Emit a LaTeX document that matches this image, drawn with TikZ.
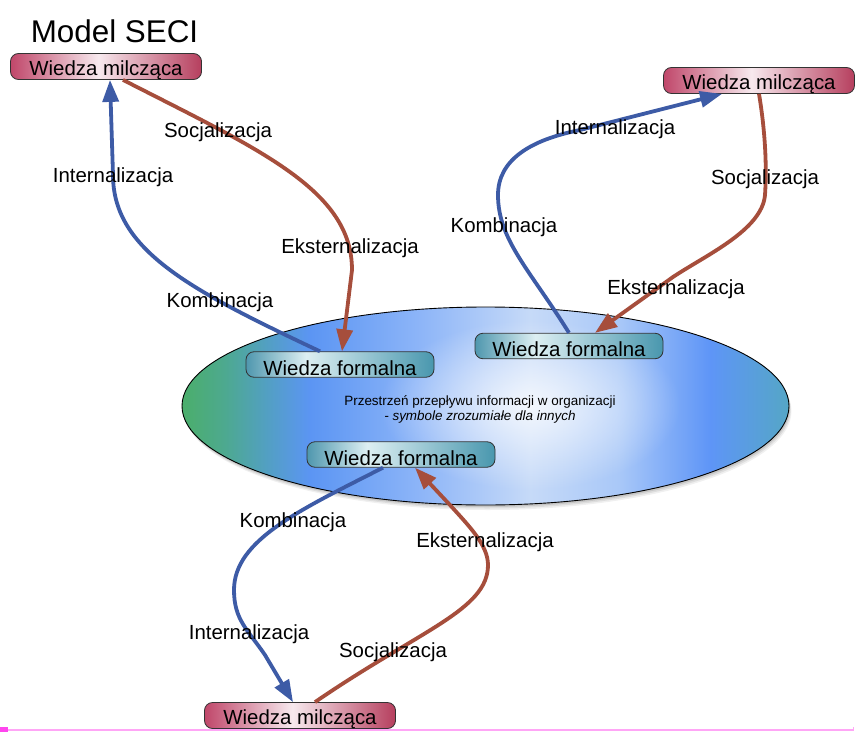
\documentclass[tikz,border=0pt]{standalone}
\usepackage{fontspec}
\setmainfont{Liberation Sans}
\usetikzlibrary{arrows.meta,fadings}

% palette
\definecolor{arrowblue}{HTML}{3D5BA6}
\definecolor{arrowbrown}{HTML}{A64E3C}
\definecolor{tacitL}{HTML}{C0476A}
\definecolor{tacitM}{HTML}{F7E9EE}
\definecolor{tacitR}{HTML}{B63F5E}
\definecolor{formL}{HTML}{4F97AE}
\definecolor{formM}{HTML}{DDEFF2}
\definecolor{formR}{HTML}{4997AE}
\definecolor{spG}{HTML}{4BAE6B}
\definecolor{spM}{HTML}{4DA98F}
\definecolor{spT}{HTML}{52A0C0}
\definecolor{spB}{HTML}{5B95F3}
\definecolor{spLB}{HTML}{8DB5F8}
\definecolor{spL}{HTML}{C6DAF8}
\definecolor{spLB2}{HTML}{A9C8F8}
\definecolor{spB2}{HTML}{5E95F7}
\definecolor{spT2}{HTML}{58A0D8}
\definecolor{spE}{HTML}{55A6C6}
\definecolor{pinkrule}{HTML}{FFA6F6}
\definecolor{pinkmark}{HTML}{FF45EE}

% box and space shadings (central 50bp span covers the filled path)
\pgfdeclarehorizontalshading{tacitshade}{100bp}{color(0bp)=(tacitL); color(25bp)=(tacitL); color(48bp)=(tacitM); color(75bp)=(tacitR); color(100bp)=(tacitR)}
\pgfdeclarehorizontalshading{formalshade}{100bp}{color(0bp)=(formL); color(25bp)=(formL); color(41bp)=(formM); color(75bp)=(formR); color(100bp)=(formR)}
\pgfdeclarehorizontalshading{spaceshade}{100bp}{color(0bp)=(spG); color(25bp)=(spG); color(28.5bp)=(spM); color(31.8bp)=(spT); color(35.5bp)=(spB); color(44.6bp)=(spLB); color(53.7bp)=(spL); color(61bp)=(spLB2); color(68.5bp)=(spB2); color(72.6bp)=(spT2); color(75bp)=(spE); color(100bp)=(spE)}
\tikzfading[name=centreglow, inner color=transparent!0, outer color=transparent!100]

\newcommand{\boxfont}{\fontsize{20.5}{24}\selectfont}
\newcommand{\labfont}{\fontsize{20.5}{24}\selectfont}

\tikzset{
  tacit/.style={rectangle, rounded corners=8bp, draw=black!80, line width=0.8bp,
    shade, shading=tacitshade, minimum width=191bp, minimum height=26bp,
    inner sep=0pt, text height=18.4bp, text depth=0pt, font=\boxfont},
  formal/.style={rectangle, rounded corners=8bp, draw=black!80, line width=0.8bp,
    shade, shading=formalshade, minimum width=188bp, minimum height=25.5bp,
    inner sep=0pt, text height=21bp, text depth=0pt, font=\boxfont},
  flowlabel/.style={anchor=base, inner sep=0pt, font=\labfont},
  bluearrow/.style={draw=arrowblue, line width=3.8bp, -{Triangle[length=22bp,width=16bp]}},
  brownarrow/.style={draw=arrowbrown, line width=3.8bp, -{Triangle[length=22bp,width=16bp]}}
}

\begin{document}
\begin{tikzpicture}[x=1bp, y=-1bp]
\useasboundingbox (0,0) rectangle (855,741);

% title
\node[anchor=base, inner sep=0pt, font=\fontsize{31.5}{36}\selectfont] (title) at (114.5,42.3) {Model SECI};

% organisational information space
\foreach \s/\o in {5/0.06,3.5/0.08,2/0.10}
  \fill[black, opacity=\o] (485.5+\s/2,406+\s) ellipse [x radius=303.5, y radius=99];
\shade[shading=spaceshade] (485.5,406) ellipse [x radius=303.5, y radius=99];
\begin{scope}
  \clip (485.5,406) ellipse [x radius=303.5, y radius=99];
  \fill[white, fill opacity=0.8, path fading=centreglow] (530,405) ellipse [x radius=150, y radius=85];
\end{scope}
\draw[black, line width=0.9bp] (485.5,406) ellipse [x radius=303.5, y radius=99];

\node[align=center, inner sep=0pt, anchor=base, font=\fontsize{13.5}{15}\selectfont] (space) at (480,420)
  {Przestrzeń przepływu informacji w organizacji\\ \textit{- symbole zrozumiałe dla innych}};

% knowledge boxes
\node[tacit] (t1) at (106,66.5) {Wiedza milcząca};
\node[tacit] (t2) at (759,80.5) {Wiedza milcząca};
\node[tacit] (t3) at (300,715.5) {Wiedza milcząca};
\node[formal] (f1) at (340,364.5) {Wiedza formalna};
\node[formal] (f2) at (569,346) {Wiedza formalna};
\node[formal] (f3) at (401,454.5) {Wiedza formalna};

% upper-left cycle
\draw[bluearrow] ([xshift=-20bp]f1.north) .. controls (190,290) and (113,250) .. (113,175) -- ([xshift=4bp]t1.south);
\draw[brownarrow] ([xshift=17bp]t1.south) .. controls (260,150) and (352,190) .. (352,270) -- ([xshift=2bp]f1.north);

% upper-right cycle
\draw[bluearrow] (f2.north) .. controls (530,270) and (498,240) .. (498,195)
  .. controls (498,160) and (530,140) .. (580,130) -- ([xshift=-37bp]t2.south);
\draw[brownarrow] (t2.south) .. controls (765,130) and (767,165) .. (765,195)
  .. controls (762,230) and (706,255) .. (673,277) -- ([xshift=26bp]f2.north);

% lower cycle
\draw[bluearrow] ([xshift=-18bp]f3.south) .. controls (300,510) and (234,540) .. (234,590)
  .. controls (234,620) and (248,630) .. (265,655) -- ([xshift=-7bp]t3.north);
\draw[brownarrow] ([xshift=15bp]t3.north) .. controls (420,630) and (488,610) .. (488,565)
  .. controls (488,545) and (469,526) .. (450,505) -- ([xshift=14bp]f3.south);

% flow labels
\node[flowlabel] (l1) at (218,137) {Socjalizacja};
\node[flowlabel] (l2) at (113,182) {Internalizacja};
\node[flowlabel] (l3) at (350,253) {Eksternalizacja};
\node[flowlabel] (l4) at (220,307) {Kombinacja};
\node[flowlabel] (l5) at (615,134) {Internalizacja};
\node[flowlabel] (l6) at (765,184) {Socjalizacja};
\node[flowlabel] (l7) at (504,232) {Kombinacja};
\node[flowlabel] (l8) at (676,294) {Eksternalizacja};
\node[flowlabel] (l9) at (293,527) {Kombinacja};
\node[flowlabel] (l10) at (485,547) {Eksternalizacja};
\node[flowlabel] (l11) at (249,639) {Internalizacja};
\node[flowlabel] (l12) at (393,657) {Socjalizacja};

% bottom rule
\draw[pinkrule, line width=1.4bp] (0,730) -- (853,730);
\draw[pinkrule, line width=1bp] (853,727) -- (853,731);
\fill[pinkmark] (0,727) rectangle (8,731.5);
\end{tikzpicture}
\end{document}
